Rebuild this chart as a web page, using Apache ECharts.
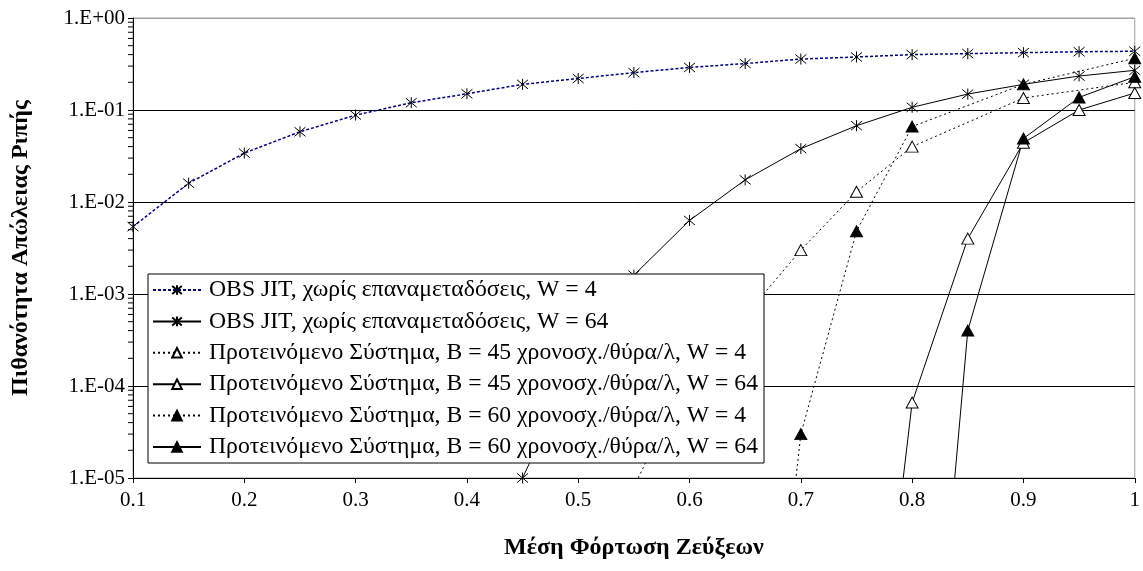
<!DOCTYPE html>
<html>
<head>
<meta charset="utf-8">
<script src="https://cdn.jsdelivr.net/npm/echarts@6/dist/echarts.min.js"></script>
<style>
  html, body { margin: 0; padding: 0; background: #fff; }
  #chart { width: 1143px; height: 571px; }
</style>
</head>
<body>
<div id="chart"></div>
<script>
// Mean link load (x) for every measured point
const loads = [0.1, 0.15, 0.2, 0.25, 0.3, 0.35, 0.4, 0.45, 0.5, 0.55,
               0.6, 0.65, 0.7, 0.75, 0.8, 0.85, 0.9, 0.95, 1.0];

// Burst loss probability for each curve (null = not measured)
const jitW4 = [0.0054, 0.016, 0.034, 0.058, 0.088, 0.12, 0.15, 0.19, 0.22, 0.255,
               0.29, 0.32, 0.358, 0.377, 0.40, 0.41, 0.42, 0.43, 0.435];
const jitW64 = [null, null, null, null, null, null, null, 1.0e-5, 2.0e-4, 1.6e-3,
                0.0063, 0.0174, 0.038, 0.0675, 0.107, 0.149, 0.19, 0.234, 0.27];
const b45W4 = [null, null, null, null, null, null, null, null, null, 8e-6,
               1.4e-4, 5.8e-4, 0.003, 0.0129, 0.040, null, 0.135, null, 0.2];
const b45W64 = [null, null, null, null, null, null, null, null, null, null,
                null, null, null, 5e-10, 6.6e-5, 0.004, 0.044, 0.1, 0.153];
const b60W4 = [null, null, null, null, null, null, null, null, null, null,
               null, 1e-10, 3e-5, 0.0048, 0.066, null, 0.19, null, 0.365];
const b60W64 = [null, null, null, null, null, null, null, null, null, null,
                null, null, null, null, 6e-11, 4e-4, 0.049, 0.137, 0.23];

const seriesNames = [
  'OBS JIT, χωρίς επαναμεταδόσεις, W = 4',
  'OBS JIT, χωρίς επαναμεταδόσεις, W = 64',
  'Προτεινόμενο Σύστημα, Β = 45 χρονοσχ./θύρα/λ, W = 4',
  'Προτεινόμενο Σύστημα, Β = 45 χρονοσχ./θύρα/λ, W = 64',
  'Προτεινόμενο Σύστημα, Β = 60 χρονοσχ./θύρα/λ, W = 4',
  'Προτεινόμενο Σύστημα, Β = 60 χρονοσχ./θύρα/λ, W = 64'
];

const xTitle = 'Μέση Φόρτωση Ζεύξεων';
const yTitle = 'Πιθανότητα Απώλειας Ριπής';

// Log-axis minor ticks: 2..9 within each decade
const decades = [1e-5, 1e-4, 1e-3, 1e-2, 1e-1];
const minorSteps = [2, 3, 4, 5, 6, 7, 8, 9];
const minorTickValues = [];
decades.forEach(d => minorSteps.forEach(m => minorTickValues.push(d * m)));

const FONT = '"Liberation Serif", "DejaVu Serif", serif';
const ASTERISK = 'path://M0 0L10 10M10 0L0 10M5 -1L5 11';

function pairs(vals) {
  return loads.map((x, i) => [x, vals[i]]);
}

function makeSeries(name, vals, opts) {
  return {
    name: name,
    type: 'line',
    data: pairs(vals),
    connectNulls: true,
    clip: true,
    symbol: opts.symbol,
    symbolSize: opts.size,
    showAllSymbol: true,
    lineStyle: {
      color: opts.lineColor || '#000',
      width: opts.width || 1,
      type: opts.dash || 'solid'
    },
    itemStyle: {
      color: opts.fill,
      borderColor: '#000',
      borderWidth: 1
    },
    emphasis: { disabled: true },
    animation: false,
    z: 2
  };
}

function sciLabel(v) {
  const e = Math.round(Math.log10(v));
  const a = Math.abs(e);
  return '1.E' + (e >= 0 ? '+' : '-') + (a < 10 ? '0' : '') + a;
}

const chart = echarts.init(document.getElementById('chart'), null, { renderer: 'canvas' });

chart.setOption({
  backgroundColor: '#fff',
  animation: false,
  textStyle: { fontFamily: FONT },
  grid: {
    left: 133, right: 6, top: 18, bottom: 93,
    show: true, borderColor: '#a0a0a0', borderWidth: 1,
    containLabel: false
  },
  legend: {
    orient: 'vertical',
    left: 148, top: 274,
    itemWidth: 48, itemHeight: 12, itemGap: 7.4,
    padding: [4, 6, 4, 4],
    backgroundColor: '#fff',
    borderColor: '#000', borderWidth: 1,
    selectedMode: false,
    textStyle: { fontFamily: FONT, fontSize: 23.7, color: '#000', lineHeight: 22, padding: [0, 0, 0, 3] },
    data: seriesNames
  },
  xAxis: {
    type: 'value',
    min: 0.1, max: 1, interval: 0.1,
    axisLine: { show: true, lineStyle: { color: '#000', width: 1 } },
    axisTick: { show: true, length: 5, lineStyle: { color: '#000' } },
    splitLine: { show: false },
    axisLabel: { fontFamily: FONT, fontSize: 21, color: '#000', margin: 12 },
    name: xTitle,
    nameLocation: 'middle',
    nameGap: 58,
    nameTextStyle: { fontFamily: FONT, fontSize: 24, fontWeight: 'bold', color: '#000' }
  },
  yAxis: {
    type: 'log', logBase: 10,
    min: 1e-5, max: 1,
    axisLine: { show: true, lineStyle: { color: '#000', width: 1 } },
    axisTick: { show: true, length: 5, lineStyle: { color: '#000' } },
    minorTick: { show: false },
    splitLine: { show: true, lineStyle: { color: ['#000', '#000', '#000', '#000', '#000', '#a0a0a0'], width: 1 } },
    axisLabel: { fontFamily: FONT, fontSize: 21, color: '#000', margin: 8, formatter: sciLabel },
    name: yTitle,
    nameLocation: 'middle',
    nameGap: 100,
    nameTextStyle: { fontFamily: FONT, fontSize: 24, fontWeight: 'bold', color: '#000' }
  },
  series: [
    makeSeries(seriesNames[0], jitW4, { symbol: ASTERISK, size: 11, fill: '#000', lineColor: '#000080', width: 1.5, dash: [3, 2] }),
    makeSeries(seriesNames[1], jitW64, { symbol: ASTERISK, size: 11, fill: '#000' }),
    makeSeries(seriesNames[2], b45W4, { symbol: 'triangle', size: [12, 11], fill: '#fff', dash: [2, 3] }),
    makeSeries(seriesNames[3], b45W64, { symbol: 'triangle', size: [12, 11], fill: '#fff' }),
    makeSeries(seriesNames[4], b60W4, { symbol: 'triangle', size: [12, 11], fill: '#000', dash: [2, 3] }),
    makeSeries(seriesNames[5], b60W64, { symbol: 'triangle', size: [12, 11], fill: '#000' }),
    {
      // minor tick marks on the left of the log axis
      type: 'custom',
      name: 'minorTicks',
      silent: true,
      clip: false,
      animation: false,
      data: minorTickValues.map(v => [0.1, v]),
      renderItem: function (params, api) {
        const p = api.coord([api.value(0), api.value(1)]);
        return {
          type: 'line',
          shape: { x1: p[0] - 5, y1: p[1], x2: p[0], y2: p[1] },
          style: { stroke: '#000', lineWidth: 1 }
        };
      },
      z: 3
    }
  ]
});
</script>
</body>
</html>
